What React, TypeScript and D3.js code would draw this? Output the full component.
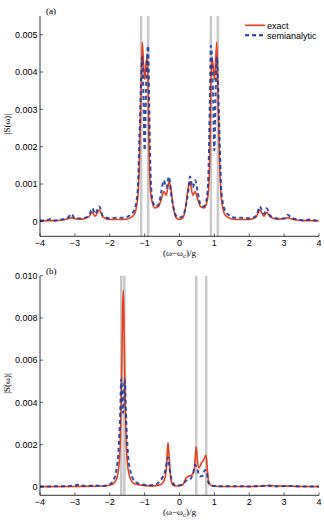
import React from "react";
import * as d3 from "d3";

// panel (a): frequency grid + spectra
const xA = [-4, -3.8, -3.7, -3.6, -3.4, -3.2, -3.1, -3.0, -2.8, -2.6, -2.5, -2.42, -2.3, -2.2, -2.0, -1.8, -1.6, -1.4, -1.3, -1.2, -1.15, -1.1, -1.07, -1.03, -1.0, -0.96, -0.93, -0.9, -0.87, -0.83, -0.78, -0.7, -0.6, -0.52, -0.45, -0.38, -0.3, -0.25, -0.18, -0.1, 0, 0.1, 0.18, 0.25, 0.3, 0.38, 0.45, 0.52, 0.6, 0.7, 0.78, 0.83, 0.87, 0.9, 0.93, 0.96, 1.0, 1.03, 1.07, 1.1, 1.15, 1.2, 1.3, 1.4, 1.6, 1.8, 2.0, 2.2, 2.3, 2.42, 2.5, 2.6, 2.8, 3.0, 3.1, 3.2, 3.4, 3.6, 3.7, 3.8, 4];
const exactA = [0.00001, 0.00002, 0.00002, 0.00002, 0.00003, 0.00007, 0.0001, 0.00007, 0.00006, 0.00012, 0.00024, 0.00014, 0.0003, 0.00012, 0.00005, 0.00005, 0.00005, 0.0001, 0.00018, 0.0006, 0.0016, 0.0035, 0.0048, 0.0042, 0.0038, 0.0042, 0.0044, 0.0036, 0.0018, 0.0008, 0.0005, 0.00036, 0.0004, 0.0006, 0.0008, 0.0007, 0.00105, 0.0009, 0.0004, 0.0001, 0.00005, 0.0001, 0.0004, 0.0009, 0.00105, 0.0007, 0.0008, 0.0006, 0.0004, 0.00036, 0.0005, 0.0008, 0.0018, 0.0036, 0.0044, 0.0042, 0.0038, 0.0042, 0.0048, 0.0035, 0.0016, 0.0006, 0.00018, 0.0001, 0.00005, 0.00005, 0.00005, 0.00012, 0.0003, 0.00014, 0.00024, 0.00012, 0.00006, 0.00007, 0.0001, 0.00007, 0.00003, 0.00002, 0.00002, 0.00002, 0.00001];
const semiA = [0.00002, 0.00003, 0.00006, 0.00002, 0.00005, 0.0001, 0.0002, 0.00008, 0.00008, 0.00015, 0.00035, 0.0002, 0.0004, 0.00015, 0.00008, 0.0001, 0.0001, 0.00018, 0.0003, 0.0008, 0.0022, 0.0038, 0.0044, 0.0032, 0.0019, 0.0035, 0.0044, 0.0047, 0.0032, 0.0013, 0.0006, 0.0004, 0.00045, 0.0008, 0.0011, 0.0009, 0.0012, 0.0008, 0.0004, 0.00015, 0.0001, 0.00015, 0.0004, 0.0008, 0.0012, 0.0009, 0.0011, 0.0008, 0.00045, 0.0004, 0.0006, 0.0013, 0.0032, 0.0047, 0.0044, 0.0035, 0.0019, 0.0032, 0.0044, 0.0038, 0.0022, 0.0008, 0.0003, 0.00018, 0.0001, 0.0001, 0.00008, 0.00015, 0.0004, 0.0002, 0.00035, 0.00015, 0.00008, 0.00008, 0.00018, 0.0001, 0.00005, 0.00002, 0.00005, 0.00003, 0.00002];
const markersA = [-1.1, -0.9, 0.9, 1.1];

// panel (b)
const xExactB = [-4, -3.0, -2.5, -2.2, -2.0, -1.9, -1.8, -1.75, -1.7, -1.66, -1.63, -1.61, -1.59, -1.56, -1.52, -1.47, -1.4, -1.3, -1.0, -0.8, -0.6, -0.5, -0.42, -0.37, -0.33, -0.3, -0.25, -0.2, -0.1, 0, 0.1, 0.18, 0.25, 0.35, 0.42, 0.46, 0.48, 0.51, 0.56, 0.62, 0.7, 0.76, 0.79, 0.83, 0.9, 1.0, 1.5, 2.0, 2.4, 2.6, 2.8, 3.2, 3.5, 4];
const exactB = [0.00001, 0.00002, 0.00003, 0.00004, 0.00008, 0.00015, 0.0004, 0.0008, 0.002, 0.005, 0.0085, 0.0093, 0.0075, 0.0045, 0.0018, 0.0008, 0.00035, 0.00015, 0.00006, 0.00004, 0.00008, 0.00015, 0.0004, 0.001, 0.0021, 0.0015, 0.0004, 0.0001, 0.00004, 0.00005, 0.0001, 0.0004, 0.0005, 0.00055, 0.0008, 0.0016, 0.0019, 0.0013, 0.0009, 0.0011, 0.0013, 0.0015, 0.001, 0.0003, 0.00008, 0.00003, 0.00002, 0.00002, 0.00004, 0.00007, 0.00004, 0.00003, 0.00002, 0.00001];
const xSemiB = [-4, -3.2, -2.85, -2.7, -2.45, -2.2, -2.0, -1.9, -1.8, -1.75, -1.7, -1.67, -1.62, -1.57, -1.53, -1.48, -1.4, -1.3, -1.1, -0.9, -0.7, -0.55, -0.47, -0.42, -0.36, -0.33, -0.3, -0.25, -0.18, -0.1, 0, 0.1, 0.2, 0.3, 0.4, 0.45, 0.5, 0.58, 0.65, 0.73, 0.78, 0.83, 0.9, 1.2, 1.6, 2.0, 2.5, 2.7, 3.2, 3.5, 4];
const semiB = [0.00002, 0.00003, 0.0001, 0.00003, 0.00007, 0.00004, 0.00012, 0.0003, 0.0009, 0.0017, 0.0035, 0.0051, 0.0035, 0.0051, 0.0032, 0.0016, 0.0007, 0.0003, 0.00012, 0.00008, 0.0001, 0.0003, 0.0005, 0.0007, 0.0012, 0.0014, 0.0011, 0.0005, 0.00015, 0.00006, 0.00008, 0.00015, 0.0003, 0.00035, 0.0007, 0.00105, 0.0009, 0.0005, 0.0005, 0.0008, 0.0007, 0.0002, 0.00006, 0.00003, 0.00003, 0.00002, 0.00005, 0.00002, 0.00004, 0.00002, 0.00002];
const markersB = [-1.67, -1.58, 0.48, 0.765];

const xTicks = [-4, -3, -2, -1, 0, 1, 2, 3, 4];
const yTicksA = [0, 0.001, 0.002, 0.003, 0.004, 0.005];
const yTicksB = [0, 0.002, 0.004, 0.006, 0.008, 0.01];

const RED = "#e8401c";
const BLUE = "#1f3a9a";
const SANS = "Liberation Sans, Arial, sans-serif";
const SERIF = "Liberation Serif, Times New Roman, serif";

type PanelProps = {
  top: number;
  bottom: number;
  yMax: number;
  yTicks: number[];
  fmt: (v: number) => string;
  label: string;
  markers: number[];
  exact: [number, number][];
  semi: [number, number][];
  legend?: boolean;
};

const x = d3.scaleLinear().domain([-4, 4]).range([40, 319]);

const Panel = ({ top, bottom, yMax, yTicks, fmt, label, markers, exact, semi, legend }: PanelProps) => {
  const y = d3.scaleLinear().domain([-0.0004, yMax]).range([bottom, top]);
  const line = d3
    .line<[number, number]>()
    .x((d) => x(d[0]))
    .y((d) => y(d[1]))
    .curve(d3.curveMonotoneX);
  const mid = (top + bottom) / 2;
  return (
    <g>
      {markers.map((m) => (
        <line key={m} x1={x(m)} x2={x(m)} y1={top} y2={bottom} stroke="#c8c8c8" strokeWidth={2.5} />
      ))}
      <path d={line(exact) || ""} fill="none" stroke={RED} strokeWidth={1.6} />
      <path d={line(semi) || ""} fill="none" stroke={BLUE} strokeWidth={2} strokeDasharray="4,3" opacity={0.9} />
      {/* axes, ticks pointing inward */}
      <line x1={x(-4)} x2={x(-4)} y1={top} y2={bottom} stroke="#000" strokeWidth={0.8} />
      <line x1={x(-4)} x2={x(4)} y1={bottom} y2={bottom} stroke="#000" strokeWidth={0.8} />
      {xTicks.map((t) => (
        <g key={t}>
          <line x1={x(t)} x2={x(t)} y1={bottom} y2={bottom - 3} stroke="#000" strokeWidth={0.6} />
          <text x={x(t)} y={bottom + 10} textAnchor="middle" fontFamily={SANS} fontSize={9}>
            {t < 0 ? "\u2212" + Math.abs(t) : t}
          </text>
        </g>
      ))}
      {yTicks.map((t) => (
        <g key={t}>
          <line x1={x(-4)} x2={x(-4) + 3} y1={y(t)} y2={y(t)} stroke="#000" strokeWidth={0.6} />
          <text x={x(-4) - 2.5} y={y(t) + 3.2} textAnchor="end" fontFamily={SANS} fontSize={9}>
            {fmt(t)}
          </text>
        </g>
      ))}
      <text x={46} y={top - 2} fontFamily={SERIF} fontSize={9}>
        {label}
      </text>
      <text x={x(0)} y={bottom + 19.5} textAnchor="middle" fontFamily={SERIF} fontSize={9}>
        (ω−ω<tspan dy={2} fontSize={7}>c</tspan>
        <tspan dy={-2}>)/g</tspan>
      </text>
      <text transform={`translate(10,${mid - 2}) rotate(-90)`} textAnchor="middle" fontFamily={SERIF} fontSize={9}>
        |S(ω)|
      </text>
      {legend && (
        <g>
          <line x1={245} x2={265} y1={25.3} y2={25.3} stroke={RED} strokeWidth={1.6} />
          <text x={267} y={28.5} fontFamily={SANS} fontSize={9}>exact</text>
          <line x1={245} x2={265} y1={35.3} y2={35.3} stroke={BLUE} strokeWidth={2} strokeDasharray="4,3" />
          <text x={267} y={38.5} fontFamily={SANS} fontSize={9}>semianalytic</text>
        </g>
      )}
    </g>
  );
};

export default function App() {
  const zipA = (ys: number[]) => xA.map((v, i) => [v, ys[i]] as [number, number]);
  const exactBPts = xExactB.map((v, i) => [v, exactB[i]] as [number, number]);
  const semiBPts = xSemiB.map((v, i) => [v, semiB[i]] as [number, number]);
  return (
    <svg width={324} height={520} style={{ position: "absolute", left: 0, top: 0, background: "#fff" }}>
      <Panel
        top={16}
        bottom={236.3}
        yMax={0.0055}
        yTicks={yTicksA}
        fmt={(v) => (v === 0 ? "0" : v.toFixed(3))}
        label="(a)"
        markers={markersA}
        exact={zipA(exactA)}
        semi={zipA(semiA)}
        legend
      />
      <Panel
        top={275.7}
        bottom={495.3}
        yMax={0.01}
        yTicks={yTicksB}
        fmt={(v) => (v === 0 ? "0" : v.toFixed(3))}
        label="(b)"
        markers={markersB}
        exact={exactBPts}
        semi={semiBPts}
      />
    </svg>
  );
}
